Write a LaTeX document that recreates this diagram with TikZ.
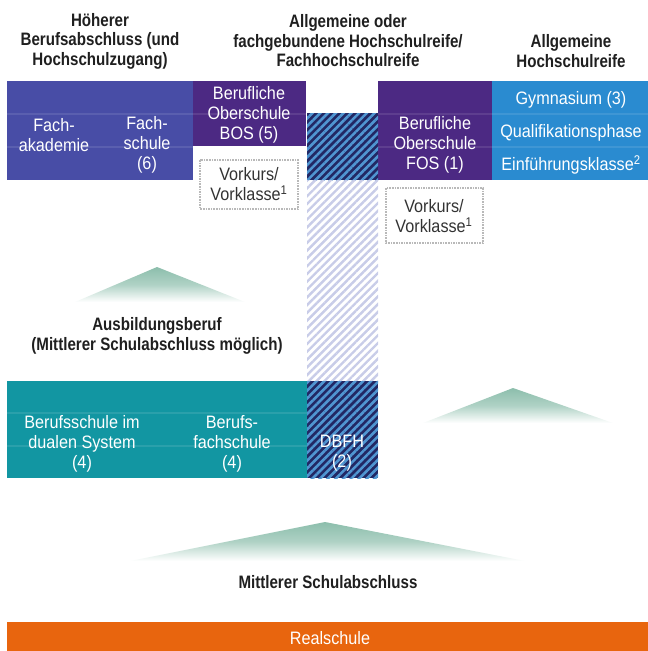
\documentclass[tikz,border=0pt]{standalone}
\usepackage{fontspec}
\setmainfont{Liberation Sans}[FakeStretch=0.84]
\newfontfamily\boxfont{Liberation Sans}[FakeStretch=0.9]
\usetikzlibrary{patterns.meta}
\definecolor{akablue}{RGB}{72,77,166}
\definecolor{bospurple}{RGB}{76,41,131}
\definecolor{gymblue}{RGB}{42,139,208}
\definecolor{dualteal}{RGB}{18,150,162}
\definecolor{realorange}{RGB}{232,101,14}
\definecolor{hatchnavy}{RGB}{34,40,100}
\definecolor{hatchsky}{RGB}{80,150,210}
\definecolor{hatchlilac}{RGB}{200,204,232}
\definecolor{hillgreen}{RGB}{140,190,172}

\begin{document}
\begin{tikzpicture}[
  x=1pt, y=-1pt,
  head/.style={font=\bfseries\fontsize{18}{19.5}\selectfont, align=center, text=black!88},
  inbox/.style={font=\boxfont\fontsize{18}{20}\selectfont, align=center, text=white},
  vortext/.style={font=\boxfont\fontsize{18}{20}\selectfont, align=center, text=black!80},
  vorbox/.style={draw=gray!55, densely dotted, line width=1.6pt},
  rowline/.style={white, opacity=0.1, line width=1.5pt},
  darkhatch/.style={pattern={Lines[angle=45,distance=5.5pt,line width=2.6pt]}, pattern color=hatchsky},
  lighthatch/.style={pattern={Lines[angle=45,distance=5.5pt,line width=2.4pt]}, pattern color=hatchlilac},
  hill/.style={top color=hillgreen, bottom color=white, middle color=hillgreen!70}
]
\useasboundingbox (0,0) rectangle (648,651);

% headings
\node [head] (hdBeruf) at (100,41) {Höherer\\Berufsabschluss (und\\Hochschulzugang)};
\node [head] (hdFach) at (348,41) {Allgemeine oder\\fachgebundene Hochschulreife/\\Fachhochschulreife};
\node [head] (hdAllg) at (571,51) {Allgemeine\\Hochschulreife};

% upper row
\fill [akablue] (7,81) rectangle (193,180);
\fill [bospurple] (193,81) rectangle (306,146);
\fill [bospurple] (378,81) rectangle (492,180);
\fill [gymblue] (492,81) rectangle (648,180);
\draw [rowline] (7,114) -- (193,114);
\draw [rowline] (7,147) -- (193,147);
\draw [rowline] (193,114) -- (306,114);
\draw [rowline] (378,114) -- (648,114);
\draw [rowline] (378,147) -- (648,147);

% hatched column
\fill [hatchnavy] (307,113) rectangle (378,180);
\fill [darkhatch] (307,113) rectangle (378,180);
\fill [lighthatch] (307,180) rectangle (378,381);
\fill [hatchnavy] (307,381) rectangle (378,478);
\fill [darkhatch] (307,381) rectangle (378,478);

% Vorkurs boxes
\draw [vorbox] (200,160) rectangle (298,209);
\draw [vorbox] (386,188) rectangle (483,243);

\node [inbox] (akad) at (54,135) {Fach-\\akademie};
\node [inbox] (fachs) at (147,145) {Fach-\\schule\\(6)};
\node [inbox] (bos) at (249,115) {Berufliche\\Oberschule\\BOS (5)};
\node [vortext] (vorA) at (249,184) {Vorkurs/\\Vorklasse\textsuperscript{1}};
\node [inbox] (fos) at (435,145) {Berufliche\\Oberschule\\FOS (1)};
\node [vortext] (vorB) at (434,216) {Vorkurs/\\Vorklasse\textsuperscript{1}};
\node [inbox] (gym) at (571,100) {Gymnasium (3)};
\node [inbox] (quali) at (571,133) {Qualifikationsphase};
\node [inbox] (einf) at (571,165) {Einführungsklasse\textsuperscript{2}};

% hills
\shade [hill] (157,267) -- (245,302) -- (75,302) -- cycle;
\shade [hill] (513,388) -- (613,423) -- (423,423) -- cycle;
\shade [hill] (325,522) -- (525,561) -- (130,561) -- cycle;

\node [head] (ausb) at (157,336) {Ausbildungsberuf\\(Mittlerer Schulabschluss möglich)};

% lower row
\fill [dualteal] (7,381) rectangle (307,478);
\draw [rowline] (7,413) -- (307,413);
\draw [rowline] (7,446) -- (307,446);
\node [inbox] (dual) at (82,444) {Berufsschule im\\dualen System\\(4)};
\node [inbox] (bfs) at (232,444) {Berufs-\\fachschule\\(4)};
\node [inbox] (dbfh) at (342,453) {DBFH\\(2)};

\node [head] (mittl) at (328,582) {Mittlerer Schulabschluss};

\fill [realorange] (7,622) rectangle (648,651);
\node [inbox] (real) at (330,638) {Realschule};

\end{tikzpicture}
\end{document}
